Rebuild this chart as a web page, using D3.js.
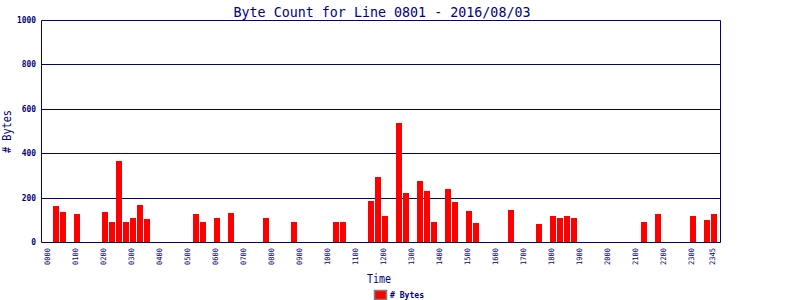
<!DOCTYPE html>
<html>
<head>
<meta charset="utf-8">
<script src="https://cdn.jsdelivr.net/npm/d3@7"></script>
<style>
html,body{margin:0;padding:0;background:#fff;}
svg{display:block;}
</style>
</head>
<body>
<svg id="chart" width="800" height="300"></svg>
<script>
const title = "Byte Count for Line 0801 - 2016/08/03";
const times = ["0015","0030","0100","0200","0215","0230","0245","0300","0315","0330",
  "0515","0530","0600","0630","0745","0845","1015","1030","1130","1145","1200",
  "1230","1245","1315","1330","1345","1415","1430","1500","1515","1630","1730",
  "1800","1815","1830","1845","2115","2145","2300","2330","2345"];
const bytes = [162,135,126,135,90,365,90,108,167,104,
  126,90,108,131,108,90,90,90,185,293,117,
  536,221,275,230,90,239,180,140,86,144,81,
  117,108,117,108,90,126,117,99,126];
const xTicks = ["0000","0100","0200","0300","0400","0500","0600","0700","0800","0900",
  "1000","1100","1200","1300","1400","1500","1600","1700","1800","1900","2000",
  "2100","2200","2300","2345"];
const yTicks = [0,200,400,600,800,1000];
const seriesName = "# Bytes";

const navy = "#000080";
const svg = d3.select("#chart");
const slot = t => (+t.slice(0,2) * 60 + +t.slice(2)) / 15;
const x = d3.scaleLinear().domain([-1, 96]).range([42, 721]);
const y = d3.scaleLinear().domain([0, 1000]).range([242, 20]);
const font = "DejaVu Sans Mono, monospace";

// gridlines
svg.append("g").selectAll("line").data(yTicks.filter(v => v > 0)).join("line")
  .attr("x1", 41.5).attr("x2", 720.5)
  .attr("y1", d => Math.round(y(d)) + 0.5).attr("y2", d => Math.round(y(d)) + 0.5)
  .attr("stroke", navy).attr("stroke-width", 1);

// bars
svg.append("g").selectAll("rect").data(times).join("rect")
  .attr("x", (d) => x(slot(d)) - 3)
  .attr("width", 6)
  .attr("y", (d, i) => Math.round(y(bytes[i])))
  .attr("height", (d, i) => 242 - Math.round(y(bytes[i])))
  .attr("fill", "#ff0000")
  .attr("shape-rendering", "crispEdges");

// frame
svg.append("path")
  .attr("d", `M41.5,${y(1000)+0.5}V242.5H720.5V${y(1000)+0.5}`)
  .attr("fill", "none").attr("stroke", navy).attr("stroke-width", 1);

// y tick labels
svg.append("g").selectAll("text").data(yTicks).join("text")
  .attr("x", 36).attr("y", d => y(d) + 0.5)
  .attr("text-anchor", "end").attr("dominant-baseline", "central")
  .attr("font-family", font).attr("font-size", 8).attr("font-weight", "bold")
  .attr("fill", navy)
  .attr("textLength", d => String(d).length * 4.75).attr("lengthAdjust", "spacingAndGlyphs")
  .text(d => d);

// x tick labels
svg.append("g").selectAll("text").data(xTicks).join("text")
  .attr("transform", d => `translate(${x(slot(d)) + 0.8},248) rotate(-90)`)
  .attr("text-anchor", "end")
  .attr("font-family", font).attr("font-size", 7.5)
  .attr("fill", navy)
  .attr("textLength", 17).attr("lengthAdjust", "spacingAndGlyphs")
  .text(d => d);

// title
svg.append("text")
  .attr("x", 382).attr("y", 17)
  .attr("text-anchor", "middle")
  .attr("font-family", font).attr("font-size", 14)
  .attr("fill", navy)
  .attr("textLength", 297).attr("lengthAdjust", "spacingAndGlyphs")
  .text(title);

// axis titles
svg.append("text")
  .attr("x", 379).attr("y", 283)
  .attr("text-anchor", "middle")
  .attr("font-family", font).attr("font-size", 13)
  .attr("fill", navy)
  .attr("textLength", 24).attr("lengthAdjust", "spacingAndGlyphs")
  .text("Time");

svg.append("text")
  .attr("transform", "translate(11,131.5) rotate(-90)")
  .attr("text-anchor", "middle")
  .attr("font-family", font).attr("font-size", 13)
  .attr("fill", navy)
  .attr("textLength", 43).attr("lengthAdjust", "spacingAndGlyphs")
  .text("# Bytes");

// legend
svg.append("rect")
  .attr("x", 374.5).attr("y", 290.5).attr("width", 12).attr("height", 9)
  .attr("fill", "#ff0000").attr("stroke", "#808080").attr("stroke-width", 1.5);
svg.append("text")
  .attr("x", 390).attr("y", 295.5)
  .attr("dominant-baseline", "central")
  .attr("font-family", font).attr("font-size", 8).attr("font-weight", "bold")
  .attr("fill", navy)
  .attr("textLength", 34).attr("lengthAdjust", "spacingAndGlyphs")
  .text(seriesName);
</script>
</body>
</html>
